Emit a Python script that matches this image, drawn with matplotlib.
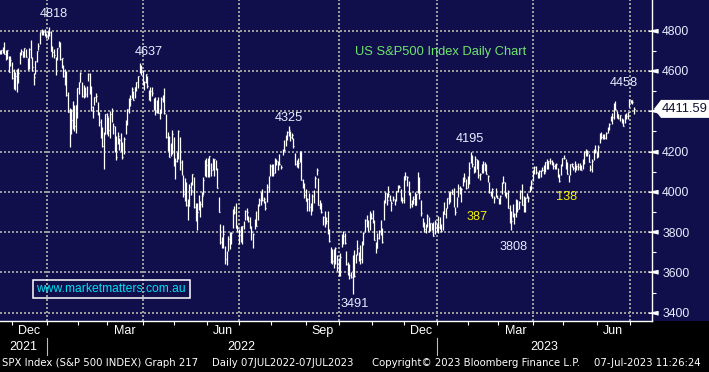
import numpy as np
import pandas as pd
import matplotlib
matplotlib.use("Agg")
import matplotlib.pyplot as plt
from matplotlib.patches import Polygon, Rectangle
from matplotlib.transforms import blended_transform_factory

# ======================
# DATA  (SPX daily bars, 17-Nov-2021 .. 06-Jul-2023)
# ======================
START, END = "2021-11-17", "2023-07-06"
HOLIDAYS = ["2021-11-25", "2021-12-24", "2022-01-17", "2022-02-21", "2022-04-15",
            "2022-05-30", "2022-06-20", "2022-07-04", "2022-09-05", "2022-11-24",
            "2022-12-26", "2023-01-02", "2023-01-16", "2023-02-20", "2023-04-07",
            "2023-05-29", "2023-06-19", "2023-07-04"]

close = [
    4688.7, 4704.5, 4698.0, 4682.9, 4690.7, 4701.5, 4594.6, 4655.3, 4567.0,  # Nov 21
    4513.0, 4577.1, 4538.4, 4591.7, 4686.8, 4701.2, 4667.5, 4712.0, 4669.0, 4634.1, 4709.9,
    4668.7, 4620.6, 4568.0, 4649.2, 4696.6, 4725.8, 4791.2, 4786.4, 4793.1, 4778.7, 4766.2,  # Dec 21
    4796.6, 4793.5, 4700.6, 4696.1, 4677.0, 4670.3, 4713.1, 4726.4, 4659.0, 4662.9,
    4577.1, 4532.8, 4482.7, 4397.9, 4410.1, 4356.5, 4349.9, 4326.5, 4431.9, 4515.6,  # Jan 22
    4546.5, 4589.4, 4477.4, 4500.5, 4483.9, 4521.5, 4587.2, 4504.1, 4418.6, 4401.7,
    4471.1, 4475.0, 4380.3, 4348.9, 4304.8, 4225.5, 4288.7, 4384.7, 4373.9,  # Feb 22
    4306.3, 4386.5, 4363.5, 4328.9, 4201.1, 4170.7, 4277.9, 4259.5, 4204.3, 4173.1, 4262.5,
    4357.9, 4411.7, 4463.1, 4461.2, 4511.6, 4456.2, 4520.2, 4543.1, 4575.5, 4631.6, 4602.5, 4530.4,  # Mar 22
    4545.9, 4582.6, 4525.1, 4481.2, 4500.2, 4488.3, 4412.5, 4397.5, 4446.6, 4392.6,
    4391.7, 4462.2, 4459.5, 4393.7, 4271.8, 4296.1, 4175.2, 4184.0, 4287.5, 4131.9,  # Apr 22
    4155.4, 4175.5, 4300.2, 4146.9, 4123.3, 3991.2, 4001.1, 3935.2, 3930.1, 4023.9, 4008.0,
    4088.9, 3923.7, 3900.8, 3901.4, 3973.8, 3941.5, 3978.7, 4057.8, 4158.2, 4132.2,  # May 22
    4101.2, 4176.8, 4108.5, 4121.4, 4160.7, 4115.8, 4017.8, 3900.9, 3749.6, 3735.5, 3790.0,
    3666.8, 3674.8, 3764.8, 3759.9, 3795.7, 3911.7, 3900.1, 3821.6, 3818.8, 3785.4,  # Jun 22
    3825.3, 3831.4, 3845.1, 3902.6, 3899.4, 3854.4, 3818.8, 3801.8, 3790.4, 3863.2,
    3830.9, 3936.7, 3959.9, 3999.0, 3961.6, 3966.8, 3921.1, 4023.6, 4072.4, 4130.3,  # Jul 22
    4118.6, 4091.2, 4155.2, 4151.9, 4145.2, 4140.1, 4122.5, 4210.2, 4207.3, 4280.2, 4297.1, 4305.2,
    4274.0, 4283.7, 4228.5, 4138.0, 4128.7, 4140.8, 4199.1, 4057.7, 4030.6, 3986.2, 3955.0,  # Aug 22
    3966.9, 3924.3, 3908.2, 3979.9, 4006.2, 4067.4, 4110.4, 3932.7, 3946.0, 3901.4, 3873.3,
    3899.9, 3855.9, 3789.9, 3758.0, 3693.2, 3655.0, 3647.3, 3719.0, 3640.5, 3585.6,  # Sep 22
    3678.4, 3790.9, 3783.3, 3744.5, 3639.7, 3612.4, 3588.8, 3577.0, 3669.9, 3583.1, 3678.0,
    3720.0, 3695.2, 3665.8, 3752.8, 3797.3, 3859.1, 3830.6, 3807.3, 3901.1, 3872.0,  # Oct 22
    3856.1, 3759.7, 3719.9, 3770.6, 3806.8, 3828.1, 3748.6, 3956.4, 3992.9, 3957.3, 3991.7,
    3958.8, 3946.6, 3965.3, 3949.9, 4003.6, 4027.3, 4026.1, 3963.9, 3957.6, 4080.1,  # Nov 22
    4076.6, 4071.7, 3998.8, 3941.3, 3933.9, 3963.5, 3934.4, 3990.6, 4019.7, 3995.3, 3895.8,
    3852.4, 3817.7, 3821.6, 3878.4, 3822.4, 3844.8, 3829.3, 3783.2, 3849.3, 3839.5,  # Dec 22
    3824.1, 3853.0, 3808.1, 3895.1, 3892.1, 3919.3, 3969.6, 3983.2, 3999.1, 3991.0,
    3928.9, 3898.9, 3972.6, 4019.8, 4017.0, 4016.2, 4060.4, 4070.6, 4017.8, 4076.6,  # Jan 23
    4119.2, 4179.8, 4136.5, 4111.1, 4164.0, 4117.9, 4081.5, 4090.5, 4137.3, 4136.1,
    4147.6, 4090.4, 4079.1, 3997.3, 3991.1, 4012.3, 3970.0, 3982.2, 3970.2,  # Feb 23
    3951.4, 3981.4, 4045.6, 4048.4, 3986.4, 3992.0, 3918.3, 3861.6, 3855.8, 3919.3, 3891.9,
    3960.3, 3916.6, 3951.6, 4002.9, 3937.0, 3948.7, 3971.0, 3977.5, 3971.3, 4027.8, 4050.8, 4109.3,  # Mar 23
    4124.5, 4100.6, 4090.4, 4105.0, 4109.1, 4108.9, 4092.0, 4146.2, 4137.6, 4151.3,
    4154.9, 4154.5, 4129.8, 4133.5, 4137.0, 4071.6, 4056.0, 4135.4, 4169.5,  # Apr 23
    4167.9, 4119.6, 4090.8, 4061.2, 4136.3, 4138.1, 4119.2, 4137.6, 4130.6, 4124.1, 4136.3,
    4109.9, 4158.8, 4198.1, 4192.0, 4192.6, 4145.6, 4115.2, 4151.3, 4205.5, 4205.5, 4179.8,  # May 23
    4221.0, 4282.4, 4273.8, 4283.9, 4267.5, 4293.9, 4298.9, 4338.9, 4369.0, 4372.6, 4425.8,
    4409.6, 4388.7, 4365.7, 4381.9, 4348.3, 4328.8, 4378.4, 4376.9, 4396.4, 4450.4,  # Jun 23
    4455.59, 4446.82, 4411.59,  # Jul 23
]

high = [
    4701.5, 4705.7, 4717.8, 4743.8, 4701.5, 4702.9, 4672.0, 4672.9, 4646.0,
    4607.5, 4595.5, 4608.0, 4612.6, 4694.0, 4708.0, 4698.8, 4713.6, 4710.3, 4665.8, 4712.6,
    4752.0, 4666.7, 4591.1, 4651.1, 4697.7, 4740.7, 4791.5, 4807.0, 4804.1, 4808.9, 4787.0,
    4796.6, 4818.6, 4797.7, 4725.0, 4707.9, 4671.3, 4714.1, 4749.0, 4744.1, 4666.0,
    4631.8, 4611.6, 4602.1, 4494.5, 4417.4, 4411.0, 4453.2, 4428.7, 4432.7, 4516.9,
    4546.9, 4595.3, 4542.9, 4529.9, 4521.9, 4526.3, 4590.0, 4588.9, 4527.3, 4426.2,
    4472.8, 4490.0, 4448.1, 4394.6, 4362.1, 4323.0, 4294.7, 4385.3, 4388.8,
    4370.2, 4401.5, 4416.8, 4342.1, 4327.0, 4276.9, 4299.4, 4268.3, 4291.0, 4247.6, 4271.1,
    4358.0, 4412.5, 4465.4, 4481.8, 4522.0, 4501.1, 4520.6, 4546.0, 4575.7, 4637.3, 4627.8, 4603.1,
    4548.7, 4583.5, 4572.5, 4507.6, 4521.2, 4520.6, 4464.4, 4471.0, 4453.9, 4471.3,
    4410.5, 4471.0, 4479.8, 4512.9, 4385.8, 4299.0, 4278.1, 4240.7, 4308.5, 4269.7,
    4169.8, 4200.1, 4307.7, 4270.4, 4157.7, 4081.3, 4068.8, 4050.0, 3964.8, 4038.9, 4046.5,
    4090.7, 4076.0, 3945.9, 3943.7, 3981.9, 3955.7, 3999.3, 4075.1, 4158.5, 4169.7,
    4166.5, 4177.5, 4142.7, 4168.8, 4164.9, 4160.1, 4119.1, 3973.8, 3838.2, 3778.2, 3837.6,
    3733.2, 3707.7, 3779.7, 3801.8, 3802.6, 3913.7, 3927.7, 3945.9, 3836.5, 3818.0,
    3829.8, 3832.2, 3853.3, 3910.6, 3918.5, 3880.9, 3873.4, 3829.4, 3796.4, 3863.6,
    3903.0, 3939.8, 3971.0, 3999.3, 4012.4, 3975.3, 3954.7, 4039.6, 4078.9, 4140.2,
    4140.5, 4140.5, 4167.7, 4161.3, 4151.6, 4186.6, 4131.0, 4211.0, 4257.9, 4280.5, 4301.0, 4325.3,
    4302.2, 4292.5, 4266.3, 4195.1, 4159.8, 4167.9, 4203.0, 4203.0, 4062.9, 4044.0, 4015.4,
    3970.2, 3994.0, 3942.6, 3987.9, 4010.2, 4076.8, 4119.3, 4069.6, 3957.1, 3943.4, 3880.5,
    3902.6, 3876.0, 3907.1, 3815.6, 3727.1, 3715.7, 3717.5, 3727.6, 3687.0, 3671.4,
    3698.4, 3791.9, 3806.9, 3797.9, 3706.7, 3653.5, 3640.7, 3603.6, 3685.4, 3712.0, 3689.7,
    3762.8, 3703.6, 3736.0, 3757.9, 3799.4, 3862.9, 3886.2, 3859.9, 3905.4, 3893.7,
    3911.8, 3860.5, 3750.6, 3796.3, 3809.0, 3859.4, 3818.4, 3958.6, 4001.5, 3993.1, 4028.8,
    3983.0, 3954.3, 3979.9, 3962.0, 4005.9, 4033.8, 4034.0, 4012.3, 3976.8, 4080.1,
    4100.5, 4076.6, 4052.5, 4001.5, 3957.6, 3977.0, 4001.5, 3990.7, 4100.9, 4075.7, 3958.4,
    3869.0, 3851.1, 3838.2, 3889.8, 3876.8, 3845.8, 3846.7, 3848.3, 3858.2, 3839.9,
    3878.5, 3873.2, 3839.7, 3906.2, 3950.6, 3920.9, 3970.1, 3997.8, 4003.9, 4015.4,
    4020.4, 3922.9, 3974.4, 4039.3, 4028.3, 4019.6, 4073.3, 4094.2, 4063.6, 4077.2,
    4148.9, 4195.4, 4182.4, 4126.7, 4176.5, 4160.6, 4156.2, 4094.4, 4139.0, 4153.0,
    4148.0, 4136.5, 4081.5, 4050.8, 4004.0, 4017.4, 3978.3, 4018.1, 3986.5,
    3971.7, 3983.6, 4048.3, 4078.5, 4050.5, 4000.4, 4010.2, 3934.0, 3905.1, 3937.3, 3894.3,
    3964.5, 3958.9, 3956.6, 4009.1, 4039.5, 3981.6, 3976.4, 3993.9, 3979.9, 4030.6, 4057.8, 4110.8,
    4127.7, 4128.0, 4099.7, 4107.9, 4109.5, 4124.3, 4132.1, 4150.3, 4163.2, 4152.0,
    4169.5, 4156.3, 4148.0, 4138.0, 4142.4, 4119.3, 4089.7, 4138.0, 4170.1,
    4184.9, 4164.0, 4148.6, 4082.6, 4138.5, 4142.3, 4130.4, 4154.3, 4132.8, 4143.7, 4141.3,
    4135.5, 4164.7, 4202.2, 4212.9, 4209.2, 4185.7, 4135.5, 4165.0, 4212.9, 4231.1, 4195.4,
    4232.4, 4290.7, 4299.3, 4287.2, 4288.3, 4298.0, 4322.6, 4340.1, 4375.4, 4391.8, 4439.2,
    4448.5, 4400.2, 4386.2, 4382.3, 4366.6, 4362.1, 4384.4, 4390.4, 4398.4, 4458.5,
    4456.5, 4454.1, 4422.6,
]

low = [
    4684.4, 4684.8, 4690.2, 4682.2, 4652.9, 4659.9, 4593.0, 4625.3, 4560.0,
    4510.3, 4504.7, 4496.0, 4540.5, 4633.0, 4678.0, 4666.8, 4670.0, 4667.6, 4606.5, 4611.2,
    4663.7, 4600.2, 4531.1, 4583.2, 4643.9, 4703.6, 4733.0, 4780.0, 4778.0, 4775.3, 4765.7,
    4758.2, 4774.3, 4699.4, 4671.3, 4662.7, 4582.2, 4652.9, 4716.9, 4653.6, 4614.8,
    4568.7, 4530.9, 4477.0, 4395.3, 4222.6, 4287.1, 4309.5, 4301.5, 4292.5, 4364.0,
    4483.5, 4544.3, 4470.4, 4465.4, 4471.5, 4471.0, 4547.9, 4484.3, 4403.4, 4364.8,
    4429.3, 4447.9, 4380.0, 4327.2, 4267.1, 4221.5, 4114.7, 4286.8, 4284.8,
    4279.5, 4267.1, 4345.6, 4284.9, 4199.9, 4157.9, 4239.1, 4209.4, 4200.5, 4161.7, 4187.9,
    4287.1, 4329.9, 4390.6, 4424.3, 4465.2, 4455.8, 4465.4, 4501.1, 4517.7, 4589.8, 4581.2, 4530.0,
    4507.6, 4539.2, 4514.2, 4455.8, 4450.3, 4474.6, 4408.4, 4381.3, 4392.7, 4390.6,
    4361.3, 4390.3, 4445.9, 4384.5, 4267.6, 4200.8, 4175.0, 4178.0, 4188.6, 4128.4,
    4062.5, 4147.1, 4161.0, 4106.2, 4081.4, 3975.5, 3953.4, 3928.8, 3858.9, 3928.8, 3983.4,
    4033.9, 3920.0, 3857.0, 3810.3, 3909.0, 3875.1, 3925.0, 3984.6, 4077.4, 4073.1,
    4073.9, 4074.4, 4080.2, 4109.2, 4080.2, 4110.2, 4017.2, 3900.2, 3743.5, 3722.3, 3722.3,
    3639.8, 3636.9, 3705.7, 3717.7, 3743.5, 3821.8, 3889.7, 3820.1, 3799.0, 3738.7,
    3749.1, 3742.1, 3815.1, 3858.2, 3858.8, 3847.9, 3818.6, 3758.6, 3721.6, 3817.2,
    3830.2, 3860.7, 3929.3, 3936.6, 3955.8, 3944.0, 3911.0, 3951.4, 3998.3, 4079.2,
    4079.8, 4079.5, 4094.4, 4135.4, 4107.3, 4132.1, 4112.1, 4181.0, 4201.4, 4227.6, 4256.0, 4277.9,
    4253.1, 4261.0, 4218.7, 4132.6, 4124.2, 4119.5, 4146.3, 4057.7, 4017.4, 3968.0, 3954.5,
    3903.7, 3907.0, 3886.8, 3906.0, 3944.8, 4017.2, 4082.2, 3932.6, 3912.7, 3896.8, 3837.1,
    3827.0, 3838.0, 3789.5, 3749.5, 3647.5, 3644.2, 3623.3, 3640.6, 3609.1, 3584.1,
    3584.1, 3726.5, 3739.2, 3739.2, 3636.3, 3588.1, 3568.5, 3570.9, 3491.6, 3579.0, 3647.4,
    3686.5, 3656.8, 3642.3, 3647.4, 3735.0, 3799.4, 3824.3, 3803.8, 3808.3, 3863.7,
    3843.8, 3759.7, 3698.2, 3721.4, 3764.1, 3786.3, 3748.3, 3858.9, 3944.0, 3935.0, 3974.3,
    3954.2, 3906.5, 3956.2, 3933.3, 3956.9, 3998.7, 4020.8, 3955.8, 3946.7, 3943.3,
    4059.7, 4026.6, 3984.5, 3918.4, 3922.7, 3937.7, 3933.5, 3935.1, 3993.0, 3965.7, 3879.5,
    3827.9, 3800.3, 3795.6, 3827.3, 3800.0, 3805.5, 3813.0, 3780.8, 3788.7, 3800.0,
    3794.3, 3815.8, 3802.4, 3809.6, 3890.4, 3869.6, 3920.1, 3937.6, 3947.7, 3989.2,
    3926.6, 3885.5, 3924.0, 3972.0, 3990.7, 3949.1, 4031.1, 4048.3, 4015.6, 4020.4,
    4037.2, 4141.9, 4123.4, 4093.4, 4096.4, 4111.0, 4069.8, 4060.8, 4092.7, 4095.0,
    4103.0, 4089.9, 4047.9, 3995.0, 3981.0, 3971.7, 3943.1, 3973.0, 3968.5,
    3939.1, 3940.0, 3990.2, 4044.6, 3980.0, 3969.8, 3918.1, 3846.7, 3808.9, 3873.6, 3838.2,
    3875.9, 3901.3, 3916.9, 3962.2, 3936.2, 3901.3, 3900.0, 3970.6, 3951.5, 3999.5, 4010.5, 4056.2,
    4086.9, 4086.9, 4069.8, 4069.8, 4072.6, 4102.6, 4086.9, 4099.4, 4113.2, 4113.0,
    4140.4, 4132.7, 4114.6, 4113.9, 4114.8, 4071.3, 4049.4, 4085.0, 4127.6,
    4163.8, 4113.6, 4088.9, 4048.3, 4081.2, 4123.8, 4110.3, 4098.9, 4109.3, 4109.9, 4109.8,
    4109.9, 4113.6, 4138.0, 4176.8, 4179.8, 4145.6, 4103.4, 4096.1, 4156.2, 4192.2, 4166.2,
    4171.6, 4241.0, 4261.2, 4263.1, 4264.0, 4261.1, 4293.6, 4306.1, 4349.3, 4337.9, 4362.6,
    4407.4, 4367.2, 4360.1, 4351.8, 4341.3, 4328.1, 4341.5, 4360.2, 4360.2, 4422.4,
    4442.3, 4436.6, 4385.1,
]

# labelled turning points: (date, which side of the bar)
turns = [("2022-01-04", "high"), ("2022-03-29", "high"), ("2022-08-16", "high"),
         ("2022-10-13", "low"), ("2023-02-02", "high"), ("2023-03-13", "low"),
         ("2023-06-30", "high")]
turn_offsets = [(4, 13), (9.5, 11.5), (0, 8.5), (2, -10), (-1, 13), (2, -17), (-5, 16.5)]

move_labels = ["387", "138"]
y_ticks = [3400, 3600, 3800, 4000, 4200, 4400, 4600, 4800]
title = "US S&P500 Index Daily Chart"
footer = ["SPX Index (S&P 500 INDEX) Graph 217", "Daily 07JUL2022-07JUL2023",
          "Copyright\u00a9 2023 Bloomberg Finance L.P.", "07-Jul-2023 11:26:24"]

# ======================
# STYLE
# ======================
W, H = 709, 372
NAVY = "#100f4c"
TXT = "#e8ecff"
GRID = "#9a9a9a"
plt.rcParams["font.family"] = ["Liberation Sans", "DejaVu Sans"]

dates = pd.bdate_range(START, END, freq="C", holidays=HOLIDAYS)
assert len(dates) == len(close) == len(high) == len(low)
x = np.arange(len(dates))
close = np.array(close)
high = np.array(high)
low = np.array(low)
last = close[-1]

fig = plt.figure(figsize=(W / 100, H / 100), dpi=100, facecolor="black")
fig.patches.append(Rectangle((0, 51 / H), 1, 1, transform=fig.transFigure,
                             facecolor=NAVY, edgecolor="none", zorder=-10))
ax = fig.add_axes([0, 51 / H, 652 / W, 321 / H])
ax.set_facecolor(NAVY)
ax.set_xlim(0.26, 419.6)
ax.set_ylim(3359, 4952)

# grid
month_start = np.r_[0, np.where(dates.month[1:] != dates.month[:-1])[0] + 1]
month_edge = month_start - 0.75
for i in month_start:
    if dates[i].month in (1, 4, 7, 10) and i > 0:
        ax.axvline(i - 0.75, color=GRID, lw=1.44, ls=(0, (1, 1)), zorder=1)
for v in y_ticks:
    ax.axhline(v, color=GRID, lw=1.44, ls=(0, (1, 1)), zorder=1)

# bars
ax.vlines(x, low, high, color="white", lw=0.9, zorder=3)
ax.hlines(close, x, x + 0.5, color="white", lw=0.9, zorder=3)

# axes
for s in ["top", "left"]:
    ax.spines[s].set_visible(False)
for s in ["right", "bottom"]:
    ax.spines[s].set_color("white")
    ax.spines[s].set_linewidth(1)

ax.yaxis.tick_right()
ax.set_yticks(y_ticks)
# the last-price flag covers the tick label next to it
ax.set_yticklabels(["" if abs(v - last) < 60 else str(v) for v in y_ticks])
ax.set_yticks([v + 100 for v in y_ticks[:-1]], minor=True)
ax.tick_params(axis="y", which="major", length=0, pad=7.3, labelsize=8.8, labelcolor=TXT)
ax.tick_params(axis="y", which="minor", length=3, width=0.8, color="white")

ax.set_xticks(month_edge[1:])
ax.set_xticklabels([])
ax.tick_params(axis="x", which="major", length=3, width=0.8, color="white")

fx = blended_transform_factory(fig.transFigure, ax.transData)
ax.plot(np.full(len(y_ticks), 652.5 / W), y_ticks, transform=fx, ls="none",
        marker=[(-1, 0), (1, 0.42), (1, -0.42)], ms=6.5, color="white", clip_on=False, zorder=5)

# month / year labels
xf = blended_transform_factory(ax.transData, fig.transFigure)
edges = list(month_edge) + [len(dates) - 0.5]
for k in range(len(month_start)):
    m = dates[month_start[k]]
    if m.month in (3, 6, 9, 12):
        lo, hi = max(edges[k], 0.26), min(edges[k + 1], 419.6)
        ax.text((lo + hi) / 2, 1 - 331 / H, m.strftime("%b"), transform=xf, ha="center",
                va="center", color="white", fontsize=9, clip_on=False)
for yr in sorted(set(dates.year)):
    idx = np.where(dates.year == yr)[0]
    lo = max(idx[0] - 0.75, 0.26)
    hi = 419.6 if yr == dates.year.max() else idx[-1] + 0.25
    ax.text((lo + hi) / 2, 1 - 347 / H, str(yr), transform=xf, ha="center", va="center",
            color="white", fontsize=9, clip_on=False)
    if idx[0] > 0:
        ax.plot([idx[0] - 0.75] * 2, [1 - 338 / H, 1 - 355 / H], transform=xf,
                color="#bbbbbb", lw=0.8, clip_on=False)

# turning point labels
for (d, side), (dx, dy) in zip(turns, turn_offsets):
    i = dates.get_loc(pd.Timestamp(d))
    v = high[i] if side == "high" else low[i]
    ax.annotate(str(int(v)), xy=(i, v), xytext=(dx * 0.72, dy * 0.72),
                textcoords="offset points", ha="center", va="center",
                color=TXT, fontsize=9.2)

fig.text(477 / W, 1 - 217 / H, move_labels[0], color="#f4f400", fontsize=9.2,
         ha="center", va="center")
fig.text(567 / W, 1 - 196.5 / H, move_labels[1], color="#f4f400", fontsize=9.2,
         ha="center", va="center")
fig.text(355 / W, 1 - 51.5 / H, title, color="#6ee46e", fontsize=9.3, ha="left", va="center")

# watermark
fig.patches.append(Rectangle((32.5 / W, 1 - 298 / H), 157 / W, 18 / H, transform=fig.transFigure,
                             fill=False, edgecolor="white", lw=1.1, zorder=5))
fig.text(111 / W, 1 - 289 / H, "www.marketmatters.com.au", color="#00e0f4", fontsize=8.7,
         ha="center", va="center")

# last price flag
hh = 9 / (321 / (4952 - 3359))
flag = Polygon([(654 / W, last), (661 / W, last + hh), (1.0, last + hh),
                (1.0, last - hh), (661 / W, last - hh)],
               closed=True, transform=fx, facecolor="white", edgecolor="none",
               clip_on=False, zorder=6)
ax.add_patch(flag)
ax.text(661.5 / W, last, f"{last:.2f}", transform=fx, ha="left", va="center", color="#101030",
        fontsize=9.3, clip_on=False, zorder=7)

# footer
for xp, s in zip([2, 212, 372, 594], footer):
    fig.text(xp / W, 1 - 363.5 / H, s, color="white", fontsize=7.3,
             family="DejaVu Sans", ha="left", va="center")

fig.savefig("out.png", dpi=100, facecolor="black")
